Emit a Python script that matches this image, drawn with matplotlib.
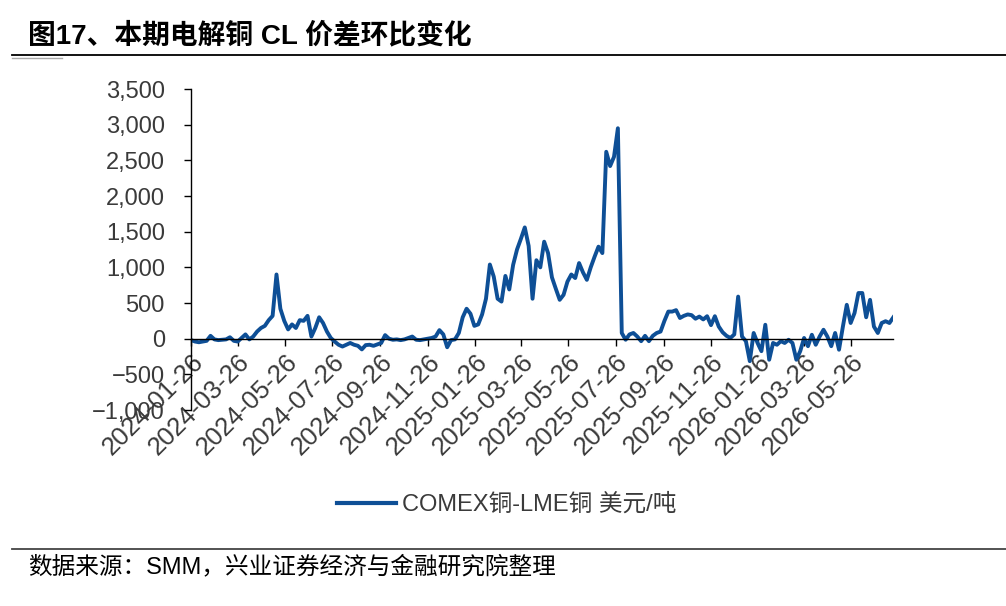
import numpy as np
import pandas as pd
import matplotlib
matplotlib.use("Agg")
import matplotlib.pyplot as plt
from matplotlib.ticker import FuncFormatter
from matplotlib.lines import Line2D

plt.rcParams['font.family'] = ['Liberation Sans', 'Noto Sans CJK SC', 'DejaVu Sans']
plt.rcParams['axes.unicode_minus'] = True

# Data: COMEX copper minus LME copper spread (USD/t), read roughly every 5 days
start_date = '2024-01-26'
spread = [
    -20, -40, -50, -40, -30, 40, -10, -20, -15, -10,
    20, -30, -40, 10, 60, -10, 30, 100, 150, 180,
    260, 320, 900, 420, 250, 130, 200, 150, 260, 250,
    320, 30, 150, 300, 220, 100, 10, -40, -85, -110,
    -85, -60, -85, -100, -150, -90, -85, -100, -80, -60,
    50, 0, -15, -10, -20, -10, 10, 30, -15, -20,
    -10, 0, 10, 30, 120, 60, -120, -20, -10, 80,
    300, 420, 350, 180, 200, 340, 560, 1040, 870, 560,
    520, 880, 690, 1035, 1250, 1400, 1560, 1300, 560, 1100,
    1000, 1360, 1200, 860, 700, 545, 615, 800, 900, 850,
    1060, 930, 825, 1000, 1150, 1290, 1200, 2620, 2420, 2550,
    2950, 80, -15, 60, 80, 30, -35, 40, -35, 40,
    80, 100, 250, 380, 380, 400, 290, 320, 340, 330,
    280, 310, 270, 315, 190, 315, 170, 90, 40, 10,
    60, 590, 30, -35, -315, 80, -60, -175, 195, -295,
    -60, -85, -35, -60, -15, -60, -295, -175, 10, -105,
    55, -85, 30, 125, 30, -105, 80, -155, 170, 475,
    220, 360, 640, 640, 300, 545, 170, 80, 220, 245,
    220, 300,
]
dates = pd.date_range(start_date, periods=len(spread), freq='5D')
tick_dates = pd.date_range('2024-01-01', '2026-05-01', freq='2MS') + pd.Timedelta(days=25)
tick_labels = [d.strftime('%Y-%m-%d') for d in tick_dates]
series_label = 'COMEX铜-LME铜 美元/吨'
title = '图17、本期电解铜 CL 价差环比变化'
source = '数据来源：SMM，兴业证券经济与金融研究院整理'

line_color = '#0E4F96'
text_color = '#3a3a3a'

fig = plt.figure(figsize=(10.06, 6.06), dpi=100)
ax = fig.add_axes([0.190, 0.3234, 0.698, 0.5297])

ax.plot(dates, spread, color=line_color, lw=2.8, solid_joinstyle='round')

ax.set_xlim(dates[0], dates[-1])
ax.set_ylim(-1000, 3500)
ax.set_yticks(np.arange(-1000, 3501, 500))
ax.yaxis.set_major_formatter(FuncFormatter(lambda v, p: f'{v:,.0f}'.replace('-', '\u2212')))

ax.spines['top'].set_visible(False)
ax.spines['right'].set_visible(False)
ax.spines['bottom'].set_position(('data', 0))
for s in ('left', 'bottom'):
    ax.spines[s].set_color('black')
    ax.spines[s].set_linewidth(1.0)
ax.tick_params(axis='both', direction='out', length=5, width=1, color='black',
               labelsize=17, labelcolor=text_color)
ax.tick_params(axis='y', pad=14)
ax.tick_params(axis='x', pad=3, labelrotation=45, labelsize=18.5)

ax.set_xticks(tick_dates)
ax.set_xticklabels(tick_labels)
plt.setp(ax.get_xticklabels(), rotation=45, ha='right', va='top',
         rotation_mode='anchor')
ax.set_facecolor('none')

# legend
handle = Line2D([], [], color=line_color, lw=3)
fig.legend([handle], [series_label], loc='center', bbox_to_anchor=(0.504, 0.167),
           frameon=False, fontsize=17, handlelength=2.5, handletextpad=0.25,
           labelcolor=text_color)

# title, rules and source
fig.text(0.028, 0.940, title, fontsize=20, fontweight='bold', color='black',
         ha='left', va='center')
fig.add_artist(Line2D([0.012, 1.0], [0.909, 0.909], color='black', lw=1.3))
fig.add_artist(Line2D([0.012, 0.062], [0.905, 0.905], color='#aaaaaa', lw=1.0))
fig.add_artist(Line2D([0.012, 1.0], [0.094, 0.094], color='#444444', lw=1.3))
fig.text(0.028, 0.064, source, fontsize=17, color='black', ha='left', va='center')

fig.savefig('out.png', dpi=100)
